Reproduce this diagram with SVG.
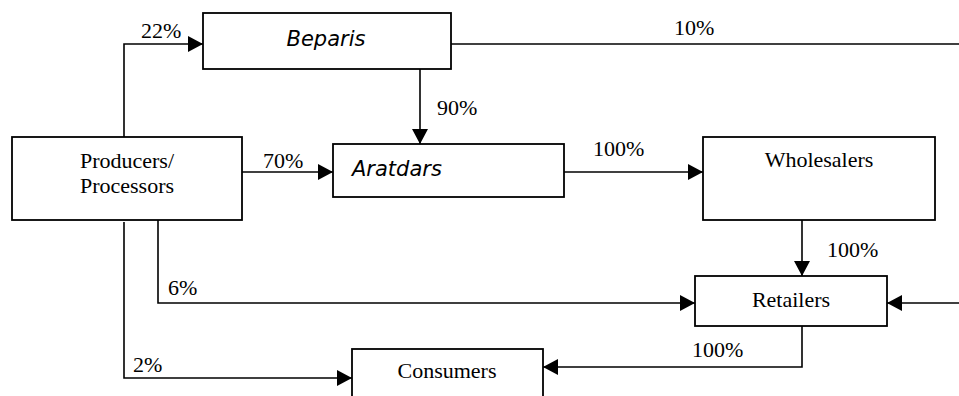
<svg xmlns="http://www.w3.org/2000/svg" width="959" height="396" viewBox="0 0 959 396">
<style>
.box{fill:#fff;stroke:#000;stroke-width:1.8}
.ln{fill:none;stroke:#000;stroke-width:1.6}
.t{font-family:"Liberation Serif","Times New Roman",serif;font-size:22px;fill:#000}
.it{font-family:"DejaVu Sans",sans-serif;font-style:italic;font-size:21px;fill:#000}
</style>
<defs>
<marker id="ah" viewBox="0 0 15 16" refX="15" refY="8" markerWidth="15" markerHeight="16" markerUnits="userSpaceOnUse" orient="auto">
<path d="M0,0 L15,8 L0,16 Z" fill="#000"/>
</marker>
</defs>
<g id="connectors">
<path class="ln" d="M124,137 V44 H203" marker-end="url(#ah)"/>
<path class="ln" d="M451,44 H959"/>
<path class="ln" d="M420,69 V144" marker-end="url(#ah)"/>
<path class="ln" d="M242,172 H333" marker-end="url(#ah)"/>
<path class="ln" d="M564,172 H703" marker-end="url(#ah)"/>
<path class="ln" d="M802,220 V276" marker-end="url(#ah)"/>
<path class="ln" d="M158,220 V303 H695" marker-end="url(#ah)"/>
<path class="ln" d="M959,303 H887" marker-end="url(#ah)"/>
<path class="ln" d="M124,222 V378 H352" marker-end="url(#ah)"/>
<path class="ln" d="M802,326 V367 H543" marker-end="url(#ah)"/>
<text class="t" x="141" y="38">22%</text>
<text class="t" x="674" y="35">10%</text>
<text class="t" x="437" y="115">90%</text>
<text class="t" x="263" y="168">70%</text>
<text class="t" x="593" y="156">100%</text>
<text class="t" x="827" y="257">100%</text>
<text class="t" x="168" y="295">6%</text>
<text class="t" x="133" y="372">2%</text>
<text class="t" x="692" y="357">100%</text>
</g>
<g id="beparis">
<rect class="box" x="203" y="13" width="248" height="56"/>
<text class="it" x="326" y="46" text-anchor="middle">Beparis</text>
</g>
<g id="producers">
<rect class="box" x="12" y="137" width="230" height="83"/>
<text class="t" x="127" y="168" text-anchor="middle">Producers/</text>
<text class="t" x="127" y="193" text-anchor="middle">Processors</text>
</g>
<g id="aratdars">
<rect class="box" x="333" y="144" width="231" height="53"/>
<text class="it" x="352" y="176">Aratdars</text>
</g>
<g id="wholesalers">
<rect class="box" x="703" y="137" width="232" height="83"/>
<text class="t" x="819" y="167" text-anchor="middle">Wholesalers</text>
</g>
<g id="retailers">
<rect class="box" x="695" y="276" width="192" height="50"/>
<text class="t" x="791" y="307" text-anchor="middle">Retailers</text>
</g>
<g id="consumers">
<rect class="box" x="352" y="349" width="191" height="60"/>
<text class="t" x="447" y="378" text-anchor="middle">Consumers</text>
</g>
</svg>
